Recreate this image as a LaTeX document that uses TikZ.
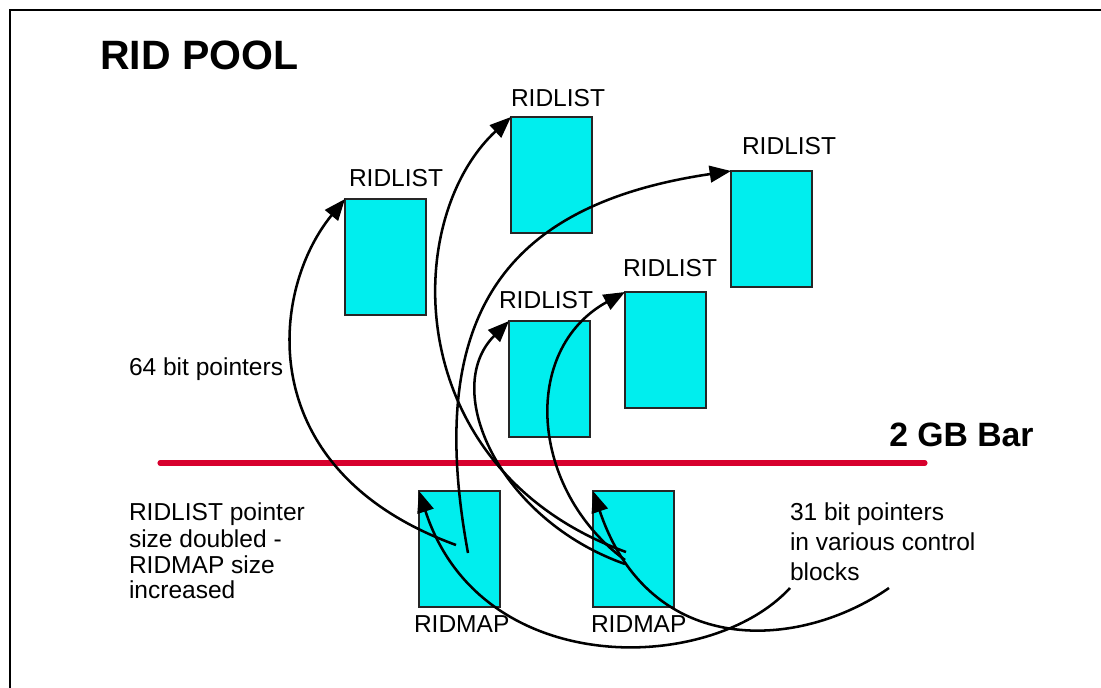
\documentclass[tikz,border=0pt]{standalone}
\usepackage{fontspec}
\setmainfont{Liberation Sans}
\usetikzlibrary{arrows.meta}
\definecolor{boxcyan}{RGB}{0,238,238}
\definecolor{barred}{RGB}{215,0,45}
\begin{document}
\begin{tikzpicture}[x=0.75pt,y=-0.75pt,
  box/.style={draw=black!85, line width=0.9pt, fill=boxcyan, minimum width=60.75pt,
    minimum height=87pt, inner sep=0pt, outer sep=0pt, anchor=north west},
  lbl/.style={font=\fontsize{18.4pt}{22pt}\selectfont, inner sep=0pt, outer sep=0pt, anchor=base west},
  ptr/.style={line width=1.9pt, -{Triangle[length=16pt,width=12.5pt]}}]
\useasboundingbox (0,0) rectangle (1101,688);
\fill[white] (0,0) rectangle (1101,688);
% frame
\coordinate (fr1) at (10,700);
\coordinate (fr2) at (10,10);
\coordinate (fr3) at (1110,10);
\draw[line width=0.8pt] (fr1) -- (fr2) -- (fr3);
% title
\node[anchor=base west, inner sep=0pt, font=\bfseries\fontsize{30.75pt}{36pt}\selectfont] (title) at (100,70) {RID POOL};
% boxes
\node[box] (l1) at (345,199) {};
\node[box] (l2) at (511,117) {};
\node[box] (l3) at (731,171) {};
\node[box] (l4) at (509,321) {};
\node[box] (l5) at (625,292) {};
\node[box] (m1) at (419,491) {};
\node[box] (m2) at (593,491) {};
% box labels
\node[lbl] (t1) at (349,187) {RIDLIST};
\node[lbl] (t2) at (511,107) {RIDLIST};
\node[lbl] (t3) at (742,155) {RIDLIST};
\node[lbl] (t4) at (499,309) {RIDLIST};
\node[lbl] (t5) at (623,277) {RIDLIST};
\node[lbl] (tm1) at (414,632) {RIDMAP};
\node[lbl] (tm2) at (591,632) {RIDMAP};
% 2 GB bar
\coordinate (bl) at (160,463);
\coordinate (br) at (925,463);
\draw[barred, line width=3.8pt, line cap=round] (bl) -- (br);
\node[anchor=base west, inner sep=0pt, font=\bfseries\fontsize{25.3pt}{30pt}\selectfont] (gb) at (889,446) {2 GB Bar};
% texts
\node[lbl] (p64) at (129,375) {64 bit pointers};
\node[lbl] (n1) at (129,520) {RIDLIST pointer};
\node[lbl] (n2) at (129,547) {size doubled -};
\node[lbl] (n3) at (129,573) {RIDMAP size};
\node[lbl] (n4) at (129,598) {increased};
\node[lbl] (q1) at (790,520) {31 bit pointers};
\node[lbl] (q2) at (790,550) {in various control};
\node[lbl] (q3) at (790,580) {blocks};
% pointer start points
\coordinate (s1) at (456,545);
\coordinate (s2) at (468,553);
\coordinate (e1) at (626,552);
\coordinate (e2) at (625,564);
\coordinate (e3) at (625,560);
\coordinate (f1) at (790,588);
\coordinate (f2) at (889,588);
% pointers
\draw[ptr] (s1) .. controls (250,470) and (270,290) .. (l1.north west);
\draw[ptr] (s2) .. controls (425,320) and (500,205) .. (l3.north west);
\draw[ptr] (e1) .. controls (400,470) and (400,220) .. (l2.north west);
\draw[ptr] (e2) .. controls (500,520) and (440,390) .. (l4.north west);
\draw[ptr] (e3) .. controls (530,490) and (520,350) .. (l5.north west);
\draw[ptr] (f1) .. controls (710,675) and (480,680) .. (m1.north west);
\draw[ptr] (f2) .. controls (800,650) and (650,660) .. (m2.north west);
\end{tikzpicture}
\end{document}
